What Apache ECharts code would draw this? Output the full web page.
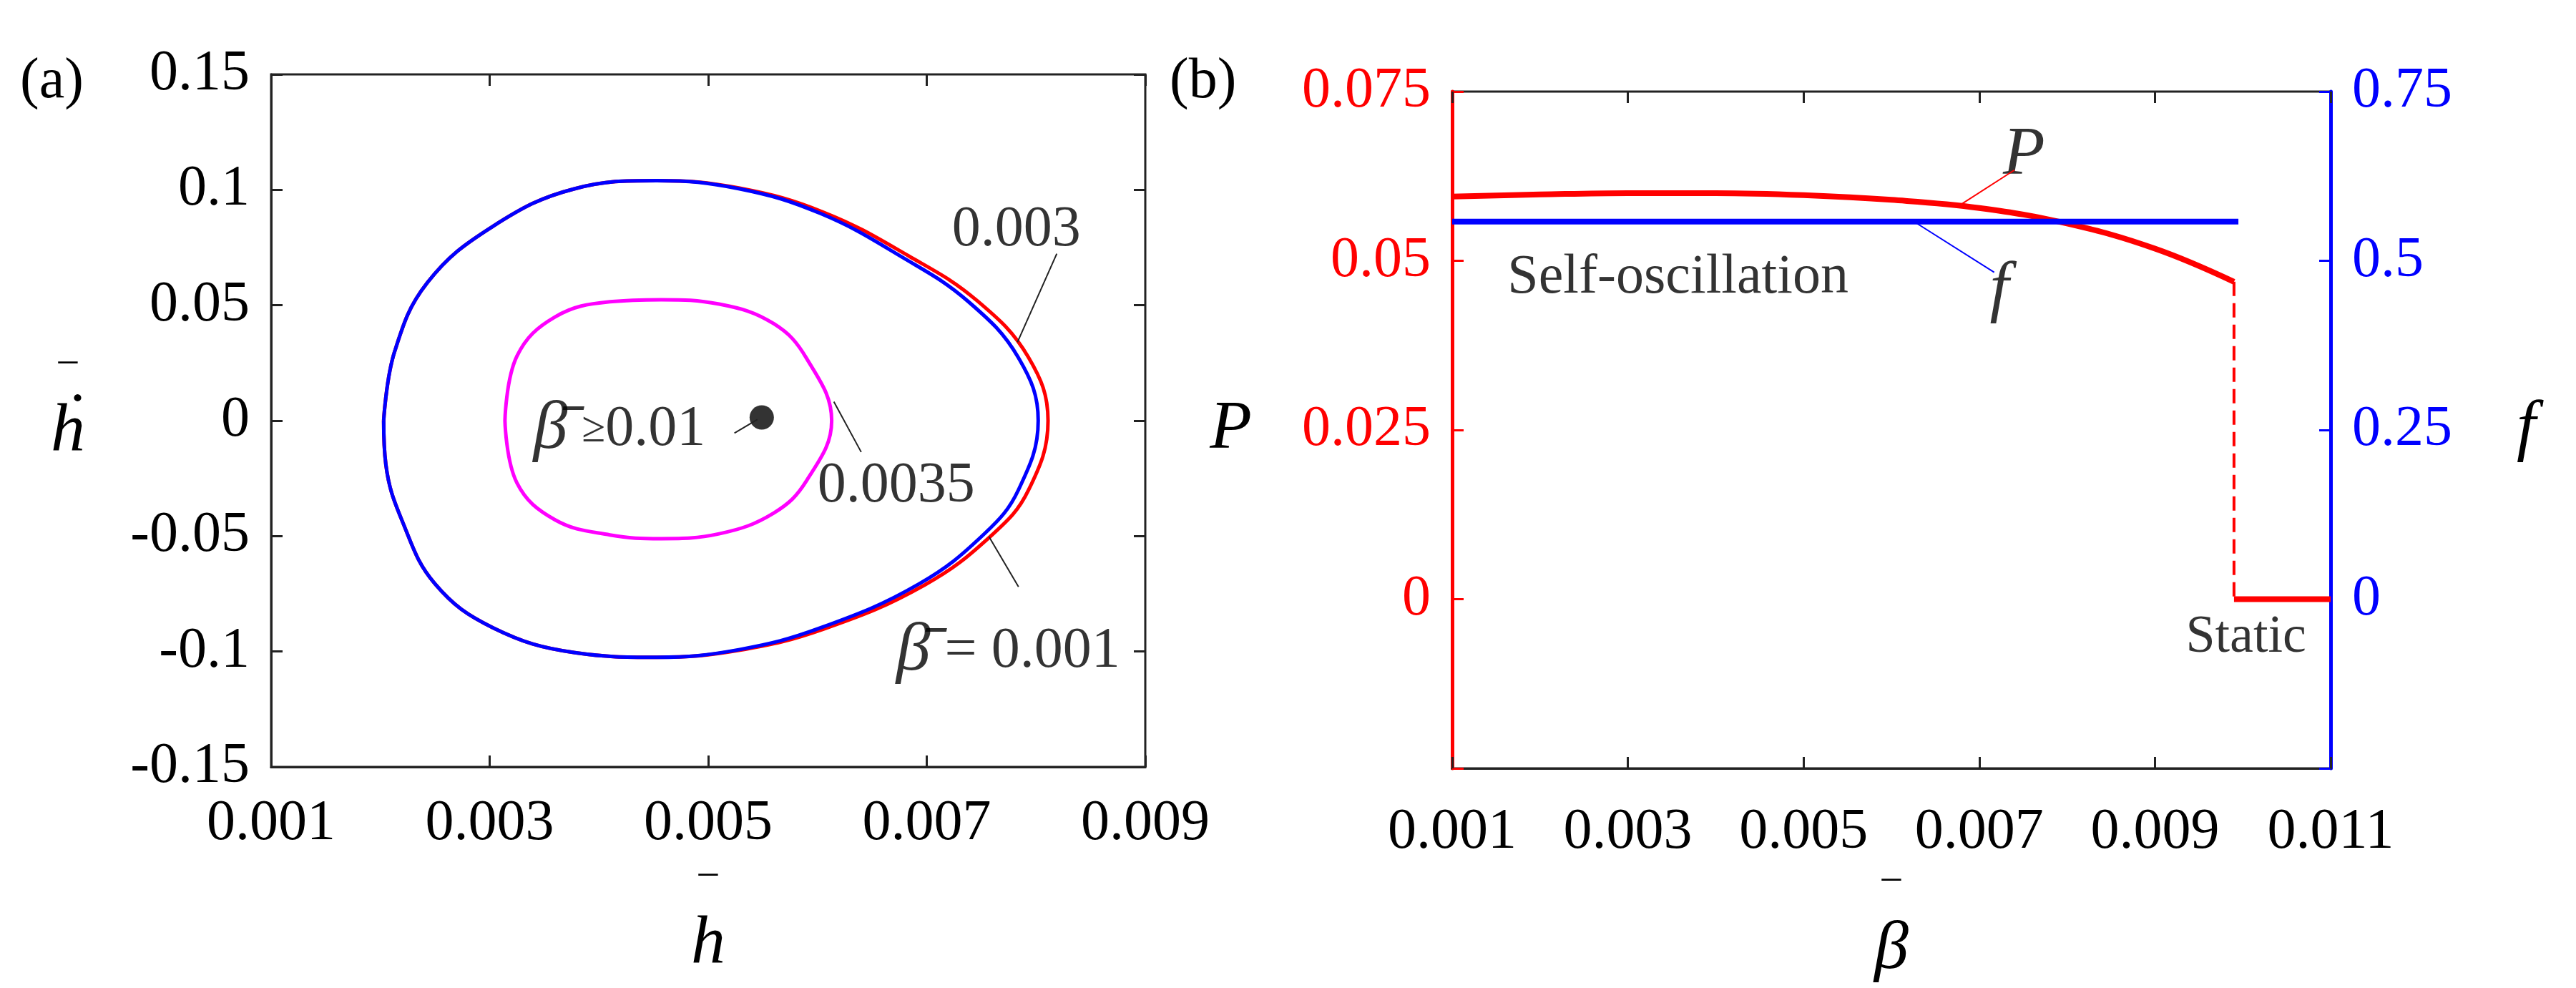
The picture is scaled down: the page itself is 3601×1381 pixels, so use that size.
<!DOCTYPE html><html><head><meta charset="utf-8">
<script src="https://cdn.jsdelivr.net/npm/echarts@6/dist/echarts.min.js"></script>
<style>html,body{margin:0;background:#fff}#c{width:3601px;height:1381px}</style></head><body><div id="c"></div>
<script>
// Panel (a): limit cycles (h, hdot)
const cycleBlue=[[0.00203,0],[0.00213,0.0299],[0.00243,0.0598],[0.00303,0.0842],[0.00378,0.1005],[0.00453,0.104],[0.00528,0.1005],[0.00603,0.0897],[0.00678,0.0707],[0.00738,0.0516],[0.00784,0.0272],[0.00802,0],[0.00784,-0.0299],[0.00753,-0.0489],[0.00693,-0.0707],[0.00603,-0.0897],[0.00528,-0.0992],[0.00453,-0.1025],[0.00378,-0.1005],[0.00303,-0.0897],[0.0025,-0.0707],[0.0022,-0.0435],[0.00205,-0.019],[0.00203,0]];
const cycleRed=[[0.00203,0],[0.00213,0.0299],[0.00243,0.0598],[0.00303,0.0842],[0.00378,0.1005],[0.00453,0.104],[0.00528,0.1008],[0.00606,0.0902],[0.00684,0.0712],[0.00746,0.0520],[0.00793,0.0275],[0.00811,0],[0.00793,-0.0302],[0.00760,-0.0494],[0.00698,-0.0712],[0.00606,-0.0902],[0.00528,-0.0995],[0.00453,-0.1025],[0.00378,-0.1005],[0.00303,-0.0897],[0.0025,-0.0707],[0.0022,-0.0435],[0.00205,-0.019],[0.00203,0]];
const cycleMagenta=[[0.00314,0],[0.00325,0.028],[0.0036,0.045],[0.0041,0.0515],[0.00457,0.0524],[0.0051,0.0505],[0.0056,0.042],[0.0059,0.027],[0.00613,0],[0.0059,-0.026],[0.0056,-0.04],[0.0051,-0.049],[0.00457,-0.0511],[0.0041,-0.0495],[0.0036,-0.043],[0.00325,-0.027],[0.00314,0]];
const fixedPoint=[[0.00549,0.0014]];
// Panel (b): P and f vs beta
const betaP=[0.001,0.002,0.003,0.004,0.005,0.006,0.007,0.008,0.009,0.0099];
const valP=[0.0595,0.0598,0.0600,0.0600,0.0597,0.0590,0.0578,0.0555,0.0518,0.0469];
const fLine=[[0.001,0.558],[0.00995,0.558]];
const staticP=[[0.0099,0],[0.011,0]];
const dropP=[[0.0099,0.0469],[0.0099,0]];

const F='Liberation Serif';
const fmt=v=>parseFloat(v.toFixed(4)).toString();
const tick=(show)=>({show,inside:true,length:16,lineStyle:{width:3,color:'#222'}});
const barRich={o:{fontFamily:F,fontSize:70,lineHeight:34,color:'#000',align:'center'},i:{fontFamily:F,fontSize:96,fontStyle:'italic',lineHeight:90,color:'#000',align:'center'}};
const bar=s=>'{o|\u203E}\n{i|'+s+'}';
function txt(grid,x,y,text,extra){return {type:'scatter',xAxisIndex:grid[0],yAxisIndex:grid[1],symbolSize:0,silent:true,data:[[x,y]],
 label:Object.assign({show:true,formatter:text,position:'right',distance:0,color:'#000',fontFamily:F,fontSize:80},extra||{})};}
function lead(ax,ay,pts,color){return {type:'line',xAxisIndex:ax,yAxisIndex:ay,data:pts,symbol:'none',lineStyle:{color:color||'#222',width:2},silent:true};}
const betaRich={b:{fontFamily:F,fontSize:96,fontStyle:'italic',color:'#000'},o:{fontFamily:F,fontSize:70,color:'#000'},s:{fontFamily:F,fontSize:60,color:'#000'}};

const option={animation:false,
grid:[{left:379,right:2000,top:104,height:968,show:true,borderColor:'#222',borderWidth:3},
      {left:2030,right:343,top:128,height:960,show:true,borderColor:'#222',borderWidth:3}],
xAxis:[{gridIndex:0,type:'value',min:0.001,max:0.009,interval:0.002,axisLine:{onZero:false,lineStyle:{color:'#222',width:3}},axisTick:tick(true),splitLine:{show:false},
  axisLabel:{formatter:v=>v.toFixed(3),fontFamily:F,fontSize:80,color:'#000',margin:40},
  name:bar('h'),nameLocation:'middle',nameGap:170,nameTextStyle:{rich:barRich}},
 {gridIndex:0,type:'value',position:'top',min:0.001,max:0.009,interval:0.002,axisLine:{show:false,onZero:false},axisTick:tick(true),axisLabel:{show:false},splitLine:{show:false}},
 {gridIndex:1,type:'value',min:0.001,max:0.011,interval:0.002,axisLine:{onZero:false,lineStyle:{color:'#222',width:3}},axisTick:tick(true),splitLine:{show:false},
  axisLabel:{formatter:v=>v.toFixed(3),fontFamily:F,fontSize:80,color:'#000',margin:50},
  name:bar('\u03B2'),nameLocation:'middle',nameGap:175,nameTextStyle:{rich:barRich}},
 {gridIndex:1,type:'value',position:'top',min:0.001,max:0.011,interval:0.002,axisLine:{show:false,onZero:false},axisTick:tick(true),axisLabel:{show:false},splitLine:{show:false}}],
yAxis:[{gridIndex:0,type:'value',min:-0.15,max:0.15,interval:0.05,axisLine:{onZero:false,lineStyle:{color:'#222',width:3}},axisTick:tick(true),splitLine:{show:false},
  axisLabel:{formatter:fmt,fontFamily:F,fontSize:80,color:'#000',margin:30},
  name:bar('\u1E23'),nameLocation:'middle',nameGap:260,nameRotate:0,nameTextStyle:{rich:barRich}},
 {gridIndex:0,type:'value',position:'right',min:-0.15,max:0.15,interval:0.05,axisLine:{show:false,onZero:false},axisTick:tick(true),axisLabel:{show:false},splitLine:{show:false}},
 {gridIndex:1,type:'value',min:-0.025,max:0.075,interval:0.025,axisLine:{onZero:false,lineStyle:{color:'#f00',width:5}},axisTick:{show:true,inside:true,length:16,lineStyle:{color:'#f00',width:3}},splitLine:{show:false},
  axisLabel:{formatter:v=>v<0?'':fmt(v),fontFamily:F,fontSize:80,color:'#f00',margin:30},
  name:'P',nameLocation:'middle',nameGap:280,nameRotate:0,nameTextStyle:{fontFamily:F,fontSize:96,fontStyle:'italic',color:'#000'}},
 {gridIndex:1,type:'value',position:'right',min:-0.25,max:0.75,interval:0.25,axisLine:{onZero:false,lineStyle:{color:'#00f',width:5}},axisTick:{show:true,inside:true,length:16,lineStyle:{color:'#00f',width:3}},splitLine:{show:false},
  axisLabel:{formatter:v=>v<0?'':fmt(v),fontFamily:F,fontSize:80,color:'#00f',margin:30},
  name:'f',nameLocation:'middle',nameGap:260,nameRotate:0,nameTextStyle:{fontFamily:F,fontSize:96,fontStyle:'italic',color:'#000'}}],
series:[
 {type:'line',xAxisIndex:0,yAxisIndex:0,data:cycleRed,smooth:0.4,symbol:'none',lineStyle:{color:'#f00',width:5}},
 {type:'line',xAxisIndex:0,yAxisIndex:0,data:cycleBlue,smooth:0.4,symbol:'none',lineStyle:{color:'#00f',width:5}},
 {type:'line',xAxisIndex:0,yAxisIndex:0,data:cycleMagenta,smooth:0.4,symbol:'none',lineStyle:{color:'#f0f',width:5}},
 {type:'scatter',xAxisIndex:0,yAxisIndex:0,data:fixedPoint,symbolSize:34,itemStyle:{color:'#000'}},
 lead(0,0,[[0.00819,0.0723],[0.00783,0.034]]),
 lead(0,0,[[0.00615,0.0082],[0.0064,-0.0136]]),
 lead(0,0,[[0.00757,-0.0503],[0.00784,-0.072]]),
 lead(0,0,[[0.00524,-0.0054],[0.00545,0.0005]]),
 txt([0,0],0.00723,0.0825,'0.003'),
 txt([0,0],0.00600,-0.0285,'0.0035'),
 txt([0,0],0.00672,-0.1,'{b|\u03B2\u0304} = 0.001',{rich:betaRich}),
 txt([0,0],0.0034,-0.004,'{b|\u03B2\u0304} {s|\u2265}0.01',{rich:betaRich}),
 {type:'line',xAxisIndex:2,yAxisIndex:2,data:betaP.map((b,i)=>[b,valP[i]]),smooth:0.4,symbol:'none',lineStyle:{color:'#f00',width:8}},
 {type:'line',xAxisIndex:2,yAxisIndex:3,data:fLine,symbol:'none',lineStyle:{color:'#00f',width:8}},
 {type:'line',xAxisIndex:2,yAxisIndex:2,data:dropP,symbol:'none',lineStyle:{color:'#f00',width:4,type:[20,10]}},
 {type:'line',xAxisIndex:2,yAxisIndex:2,data:staticP,symbol:'none',lineStyle:{color:'#f00',width:8}},
 lead(2,2,[[0.0074,0.0634],[0.0068,0.0584]],'#f00'),
 lead(2,2,[[0.00717,0.0483],[0.00628,0.0556]],'#00f'),
 txt([2,2],0.00727,0.0655,'P',{fontSize:96,fontStyle:'italic'}),
 txt([2,2],0.00712,0.0455,'f',{fontSize:96,fontStyle:'italic'}),
 txt([2,2],0.00163,0.0475,'Self-oscillation',{fontSize:78}),
 txt([2,2],0.00935,-0.0057,'Static',{fontSize:74})
],
graphic:[{type:'text',left:28,top:75,style:{text:'(a)',font:'80px "Liberation Serif"',fill:'#000'}},
 {type:'text',left:1635,top:75,style:{text:'(b)',font:'80px "Liberation Serif"',fill:'#000'}}]
};
echarts.init(document.getElementById('c')).setOption(option);
</script></body></html>
